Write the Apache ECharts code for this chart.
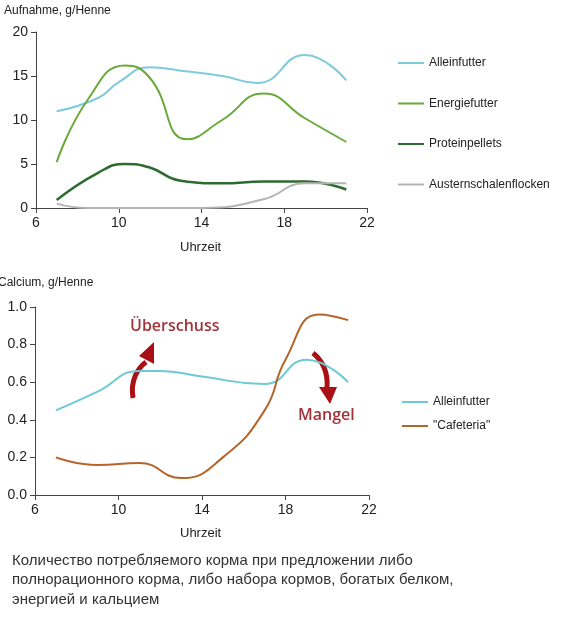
<!DOCTYPE html><html><head><meta charset="utf-8"><script src="https://cdn.jsdelivr.net/npm/echarts@6/dist/echarts.min.js"></script>
<style>body{margin:0;background:#fff}#c{width:576px;height:617px}</style></head><body><div id="c"></div><script>
const alleinTop=[[7,11],[9,12.5],[10,14.3],[11.5,16],[13,15.6],[15,15],[16.7,14.2],[19,17.4],[21,14.5]];
const energie=[[7,5.2],[8.5,12.3],[10.3,16.2],[11.5,14.8],[13.3,7.8],[15,10],[17,13],[19,10.2],[21,7.5]];
const protein=[[7,0.9],[9,4],[10.3,5],[11.5,4.6],[13,3.1],[15,2.8],[17,3],[19,3],[21,2.1]];
const austern=[[7,0.5],[8.5,0],[14,0],[17,1],[19,2.8],[21,2.8]];
const alleinCa=[[7,0.45],[9,0.55],[11,0.66],[12,0.66],[14,0.63],[17,0.59],[19,0.72],[21,0.6]];
const cafeteria=[[7,0.2],[9,0.16],[11,0.17],[13,0.09],[15,0.2],[17,0.45],[18,0.72],[19.6,0.96],[21,0.93]];
const xTicks=[6,10,14,18,22];
const ch=echarts.init(document.getElementById('c'));
const lab={color:'#222',fontSize:14,fontFamily:'Arial'};
const ax={axisLine:{show:true,lineStyle:{color:'#444'}},axisTick:{show:true,lineStyle:{color:'#444'}},splitLine:{show:false},axisLabel:lab};
const xa=(g)=>Object.assign({},ax,{type:'value',gridIndex:g,min:6,max:22,interval:4});
const ln=(name,data,color,xi,w)=>({name,type:'line',data,xAxisIndex:xi,yAxisIndex:xi,smooth:0.5,showSymbol:false,lineStyle:{color,width:w||2},itemStyle:{color}});
const red='#a81016';
ch.setOption({
animation:false,
grid:[{left:36,right:209,top:32,height:176},{left:35,right:207,top:307,height:188}],
xAxis:[xa(0),xa(1)],
yAxis:[Object.assign({},ax,{type:'value',gridIndex:0,min:0,max:20,interval:5}),Object.assign({},ax,{type:'value',gridIndex:1,min:0,max:1,interval:0.2,axisLabel:Object.assign({},lab,{formatter:v=>v.toFixed(1)})})],
legend:[{orient:'vertical',left:393,top:52,itemGap:28.5,itemWidth:26,itemHeight:2,icon:'rect',textStyle:{fontSize:12,color:'#222',fontFamily:'Arial'},data:['Alleinfutter','Energiefutter','Proteinpellets','Austernschalenflocken']},
{orient:'vertical',left:397,top:391,itemGap:12,itemWidth:26,itemHeight:2,icon:'rect',textStyle:{fontSize:12,color:'#222',fontFamily:'Arial'},data:['Alleinfutter ','"Cafeteria"']}],
series:[ln('Alleinfutter',alleinTop,'#7ecbdc',0),ln('Energiefutter',energie,'#6aaa3a',0),ln('Proteinpellets',protein,'#2e6b30',0,2.5),ln('Austernschalenflocken',austern,'#b4b4b4',0),
ln('Alleinfutter ',alleinCa,'#6ccad6',1),ln('"Cafeteria"',cafeteria,'#b5652a',1)],
graphic:[
{type:'text',left:4,top:5,style:{text:'Aufnahme, g/Henne',fontSize:12,fill:'#222',fontFamily:'Arial'}},
{type:'text',left:180,top:241,style:{text:'Uhrzeit',fontSize:13,fill:'#222',fontFamily:'Arial'}},
{type:'text',left:-2,top:277,style:{text:'Calcium, g/Henne',fontSize:12,fill:'#222',fontFamily:'Arial'}},
{type:'text',left:180,top:527,style:{text:'Uhrzeit',fontSize:13,fill:'#222',fontFamily:'Arial'}},
{type:'text',left:130,top:318,style:{text:'Überschuss',fontSize:16,fontWeight:600,fill:'#a3333b',fontFamily:'Open Sans'}},
{type:'text',left:298,top:407,style:{text:'Mangel',fontSize:16,fontWeight:600,fill:'#a3333b',fontFamily:'Open Sans'}},
{type:'bezierCurve',shape:{x1:133,y1:398,x2:146,y2:362,cpx1:130,cpy1:380,cpx2:138,cpy2:368},style:{stroke:red,lineWidth:5,fill:null}},
{type:'polygon',shape:{points:[[139,356],[154,342],[154,364]]},style:{fill:red}},
{type:'bezierCurve',shape:{x1:313,y1:353,x2:327,y2:388,cpx1:324,cpy1:362,cpx2:328,cpy2:375},style:{stroke:red,lineWidth:5,fill:null}},
{type:'polygon',shape:{points:[[319,387],[337,387],[330,404]]},style:{fill:red}},
{type:'text',left:12,top:551,style:{text:'Количество потребляемого корма при предложении либо\nполнорационного корма, либо набора кормов, богатых белком,\nэнергией и кальцием',fontSize:15,lineHeight:19.5,fill:'#333',fontFamily:'Arial'}}
]});
</script></body></html>
